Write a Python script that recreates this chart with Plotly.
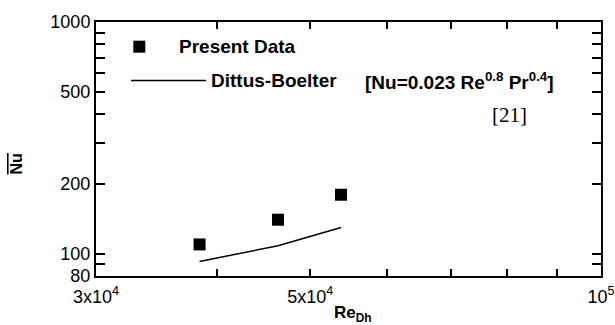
import plotly.graph_objects as go

# Data
re_data = [38400, 46300, 53800]
nu_data = [109.5, 140.0, 179.5]
re_db = [38400, 46300, 53800]
nu_db = [92.4, 108.1, 129.6]

x_tickvals = [30000, 40000, 50000, 60000, 70000, 80000, 90000, 100000]
x_ticktext = ["3x10<sup>4</sup>", "", "5x10<sup>4</sup>", "", "", "", "", "10<sup>5</sup>"]
y_tickvals = [80, 90, 100, 200, 300, 400, 500, 600, 700, 800, 900, 1000]
y_ticktext = ["80", "", "100", "200", "", "", "500", "", "", "", "", "1000"]

FONT = "Liberation Sans, Arial, sans-serif"
XR = [4.47712, 5.0]
YR = [1.90309, 3.0]

fig = go.Figure()
fig.add_trace(go.Scatter(x=re_db, y=nu_db, mode="lines",
                         line=dict(color="black", width=1.5), showlegend=False))
fig.add_trace(go.Scatter(x=re_data, y=nu_data, mode="markers",
                         marker=dict(symbol="square", size=12, color="black"),
                         showlegend=False))

tickfont = dict(family=FONT, size=18, color="black")
common = dict(showline=True, linecolor="black", linewidth=2, mirror="allticks",
              ticks="inside", tickcolor="black", tickwidth=2, showgrid=False,
              zeroline=False, tickfont=tickfont, automargin=False, tickmode="array")
fig.update_layout(
    xaxis=dict(type="log", range=XR, tickvals=x_tickvals, ticktext=x_ticktext,
               ticklen=7, ticklabelstandoff=3, **common),
    yaxis=dict(type="log", range=YR, tickvals=y_tickvals, ticktext=y_ticktext,
               ticklen=9, **common),
)

# Legend drawn manually
fig.add_shape(type="rect", xref="paper", yref="paper",
              x0=0.0739, x1=0.0976, y0=0.8793, y1=0.9265,
              fillcolor="black", line=dict(width=0))
fig.add_shape(type="line", xref="paper", yref="paper",
              x0=0.0693, x1=0.2178, y0=0.7692, y1=0.7692,
              line=dict(color="black", width=1.5))

ann_font = dict(family=FONT, size=19, color="black")
fig.add_annotation(xref="paper", yref="paper", x=0.160, y=0.9017, xanchor="left",
                   yanchor="middle", text="<b>Present Data</b>", showarrow=False, font=ann_font)
fig.add_annotation(xref="paper", yref="paper", x=0.224, y=0.7692, xanchor="left",
                   yanchor="middle", text="<b>Dittus-Boelter</b>", showarrow=False, font=ann_font)
fig.add_annotation(xref="paper", yref="paper", x=0.528, y=0.7692, xanchor="left",
                   yanchor="middle",
                   text="<b>[Nu=0.023 Re<sup>0.8</sup> Pr<sup>0.4</sup>]</b>",
                   showarrow=False, font=ann_font)
fig.add_annotation(xref="paper", yref="paper", x=0.8198, y=0.6343, xanchor="center",
                   yanchor="middle", text="[21]", showarrow=False,
                   font=dict(family="Liberation Serif, Times New Roman, serif", size=21, color="black"))

# Axis titles
fig.add_annotation(xref="paper", yref="paper", x=0.5089, y=-0.150, xanchor="center",
                   yanchor="middle", text="<b>Re<sub>Dh</sub></b>", showarrow=False,
                   font=dict(family=FONT, size=17, color="black"))
fig.add_annotation(xref="paper", yref="paper", x=-0.158, y=0.44, xanchor="center",
                   yanchor="middle", textangle=-90,
                   text="<b><span style='text-decoration:overline'>Nu</span></b>",
                   showarrow=False, font=dict(family=FONT, size=16, color="black"))

fig.update_layout(width=615, height=325, margin=dict(l=96, r=14, t=22, b=49, autoexpand=False),
                  paper_bgcolor="white", plot_bgcolor="white")

# remove the default page margin so the 615x325 figure fills the window exactly
fig.write_html("out.html", config={"displayModeBar": False},
               post_script="document.body.style.margin='0';document.body.style.overflow='hidden';")
